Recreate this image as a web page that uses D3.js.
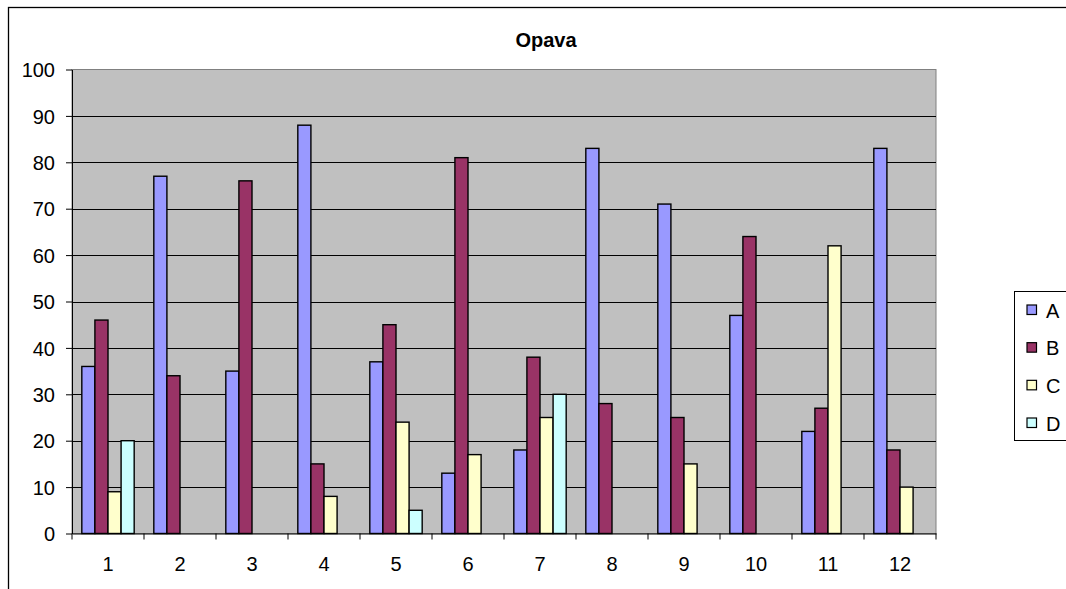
<!DOCTYPE html>
<html>
<head>
<meta charset="utf-8">
<script src="https://cdn.jsdelivr.net/npm/d3@7"></script>
<style>
  html, body { margin: 0; padding: 0; background: #fff; }
  svg { display: block; font-family: Arial, "Liberation Sans", sans-serif; }
</style>
</head>
<body>
<svg id="chart" width="1066" height="589"></svg>
<script>
const title = "Opava";
const categories = ["1","2","3","4","5","6","7","8","9","10","11","12"];
const seriesNames = ["A","B","C","D"];
const seriesA = [36, 77, 35, 88, 37, 13, 18, 83, 71, 47, 22, 83];
const seriesB = [46, 34, 76, 15, 45, 81, 38, 28, 25, 64, 27, 18];
const seriesC = [9, 0, 0, 8, 24, 17, 25, 0, 15, 0, 62, 10];
const seriesD = [20, 0, 0, 0, 5, 0, 30, 0, 0, 0, 0, 0];
const yTicks = [0, 10, 20, 30, 40, 50, 60, 70, 80, 90, 100];
const colors = ["#9999FF", "#993366", "#FFFFCC", "#CCFFFF"];

const seriesValues = [seriesA, seriesB, seriesC, seriesD];

const svg = d3.select("#chart");
const plot = { left: 72, right: 936, top: 69.5, bottom: 533.5 };

// chart area border
svg.append("rect")
  .attr("x", 8.5).attr("y", 7.5)
  .attr("width", 1200).attr("height", 800)
  .attr("fill", "#fff").attr("stroke", "#000").attr("stroke-width", 1.3);

const x = d3.scaleBand().domain(categories).range([plot.left, plot.right]).paddingInner(0).paddingOuter(0);
const x1 = d3.scaleBand().domain(seriesNames)
  .range([x.bandwidth() * 0.75 / 5.5, x.bandwidth() - x.bandwidth() * 0.75 / 5.5]);
const y = d3.scaleLinear().domain([0, 100]).range([plot.bottom, plot.top]);

// plot background
svg.append("rect")
  .attr("x", plot.left).attr("y", plot.top)
  .attr("width", plot.right - plot.left).attr("height", plot.bottom - plot.top)
  .attr("fill", "#C0C0C0").attr("stroke", "#808080").attr("stroke-width", 1);

// gridlines
svg.append("g").selectAll("line")
  .data(yTicks.filter(d => d > 0 && d < 100))
  .join("line")
  .attr("x1", plot.left).attr("x2", plot.right)
  .attr("y1", d => Math.round(y(d)) + 0.5).attr("y2", d => Math.round(y(d)) + 0.5)
  .attr("stroke", "#000").attr("stroke-width", 1);

// bars
const flat = [];
categories.forEach((c, i) => {
  seriesNames.forEach((s, j) => {
    const v = seriesValues[j][i];
    if (v > 0) flat.push({ c, s, v, j });
  });
});
svg.append("g").selectAll("rect")
  .data(flat)
  .join("rect")
  .attr("x", d => x(d.c) + x1(d.s))
  .attr("y", d => y(d.v))
  .attr("width", x1.bandwidth())
  .attr("height", d => y(0) - y(d.v))
  .attr("fill", d => colors[d.j])
  .attr("stroke", "#000").attr("stroke-width", 1.4);

// y axis
const yAxis = d3.axisLeft(y).tickValues(yTicks).tickSize(6).tickPadding(11).tickSizeOuter(0);
const gy = svg.append("g").attr("transform", `translate(${plot.left},0)`).call(yAxis);
gy.select(".domain").attr("stroke", "#000");
gy.selectAll("line").attr("stroke", "#000");
gy.selectAll("text").attr("font-size", 20).attr("fill", "#000")
  .attr("font-family", "Arial, 'Liberation Sans', sans-serif").attr("dy", "0.36em");

// x axis
const xAxis = d3.axisBottom(x).tickSize(0).tickSizeOuter(0).tickPadding(23);
const gx = svg.append("g").attr("transform", `translate(0,${plot.bottom})`).call(xAxis);
gx.select(".domain").attr("stroke", "#000");
gx.selectAll("text").attr("font-size", 20).attr("fill", "#000")
  .attr("font-family", "Arial, 'Liberation Sans', sans-serif");
// category boundary tick marks
svg.append("g").selectAll("line")
  .data(d3.range(categories.length + 1))
  .join("line")
  .attr("x1", i => plot.left + i * x.bandwidth())
  .attr("x2", i => plot.left + i * x.bandwidth())
  .attr("y1", plot.bottom).attr("y2", plot.bottom + 6)
  .attr("stroke", "#000");

// title
svg.append("text")
  .attr("x", 546).attr("y", 47)
  .attr("text-anchor", "middle")
  .attr("font-size", 20).attr("font-weight", "bold")
  .text(title);

// legend
const lg = svg.append("g");
lg.append("rect")
  .attr("x", 1014.5).attr("y", 291.5).attr("width", 100).attr("height", 149)
  .attr("fill", "#fff").attr("stroke", "#000").attr("stroke-width", 1);
const ly = d3.scalePoint().domain(seriesNames).range([310, 423]);
const items = lg.selectAll("g.item").data(seriesNames).join("g").attr("class", "item");
items.append("rect")
  .attr("x", 1027).attr("y", d => ly(d) - 5)
  .attr("width", 9.5).attr("height", 9.5)
  .attr("fill", (d, i) => colors[i]).attr("stroke", "#000").attr("stroke-width", 1.2);
items.append("text")
  .attr("x", 1046).attr("y", d => ly(d) + 7.5)
  .attr("font-size", 20).text(d => d);
</script>
</body>
</html>
